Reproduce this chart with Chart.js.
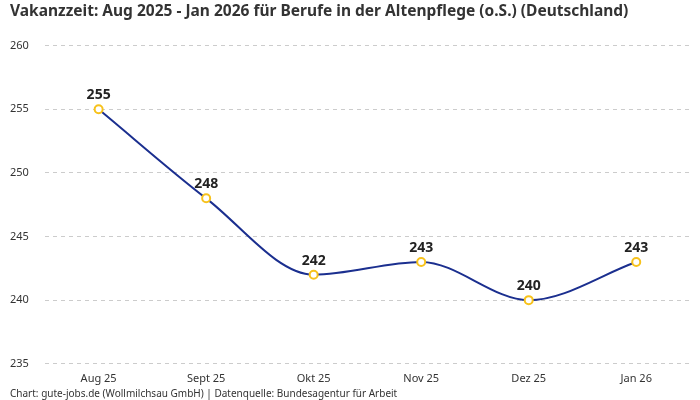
<!DOCTYPE html>
<html><head><meta charset="utf-8">
<script src="https://cdn.jsdelivr.net/npm/chart.js@4"></script>
<style>html,body{margin:0;padding:0;background:#fff}#wrap{width:700px;height:400px}</style>
</head><body><div id="wrap"><canvas id="c"></canvas></div>
<script>
const categories = ["Aug 25", "Sept 25", "Okt 25", "Nov 25", "Dez 25", "Jan 26"];
const values = [255, 248, 242, 243, 240, 243];
const yTicks = [235, 240, 245, 250, 255, 260];
const titleText = "Vakanzzeit: Aug 2025 - Jan 2026 für Berufe in der Altenpflege (o.S.) (Deutschland)";
const footerText = "Chart: gute-jobs.de (Wollmilchsau GmbH) | Datenquelle: Bundesagentur für Arbeit";

const FONT = "'Noto Sans', 'DejaVu Sans', sans-serif";

const labelPlugin = {
  id: 'valLabels',
  afterDatasetsDraw(chart) {
    const ctx = chart.ctx;
    const meta = chart.getDatasetMeta(0);
    ctx.save();
    ctx.font = "bold 14px " + FONT;
    ctx.fillStyle = "#222";
    ctx.textAlign = "center";
    ctx.textBaseline = "bottom";
    meta.data.forEach((pt, i) => {
      ctx.fillText(String(values[i]), pt.x, pt.y - 7);
    });
    ctx.restore();
  }
};

new Chart(document.getElementById('c'), {
  type: 'line',
  data: {
    labels: categories,
    datasets: [{
      data: values,
      borderColor: '#1b2f8f',
      borderWidth: 2,
      cubicInterpolationMode: 'monotone',
      pointRadius: 4,
      pointBorderWidth: 2,
      pointBorderColor: '#f7c21c',
      pointBackgroundColor: '#ffffff'
    }]
  },
  options: {
    responsive: true,
    maintainAspectRatio: false,
    animation: false,
    layout: { padding: { left: 10, right: 10, top: 2, bottom: 0 } },
    plugins: {
      legend: { display: false },
      tooltip: { enabled: false },
      title: {
        display: true, text: titleText, align: 'start',
        color: '#333', font: { family: FONT, size: 15.5, weight: 'bold' },
        padding: { top: 0, bottom: 25 }
      },
      subtitle: {
        display: true, text: footerText, align: 'start', position: 'bottom',
        color: '#333', font: { family: FONT, size: 10 },
        padding: { top: 3, bottom: 0 }
      }
    },
    scales: {
      x: {
        offset: true,
        grid: { display: false },
        border: { display: false },
        ticks: { color: '#333', font: { family: FONT, size: 11 }, padding: 0 }
      },
      y: {
        min: 235, max: 260,
        afterBuildTicks(axis) { axis.ticks = yTicks.map(v => ({ value: v })); },
        grid: { color: '#cccccc', drawTicks: false },
        border: { display: false, dash: [4, 4] },
        ticks: { color: '#333', font: { family: FONT, size: 11 }, padding: 8, crossAlign: 'far' }
      }
    }
  },
  plugins: [labelPlugin]
});
</script></body></html>
